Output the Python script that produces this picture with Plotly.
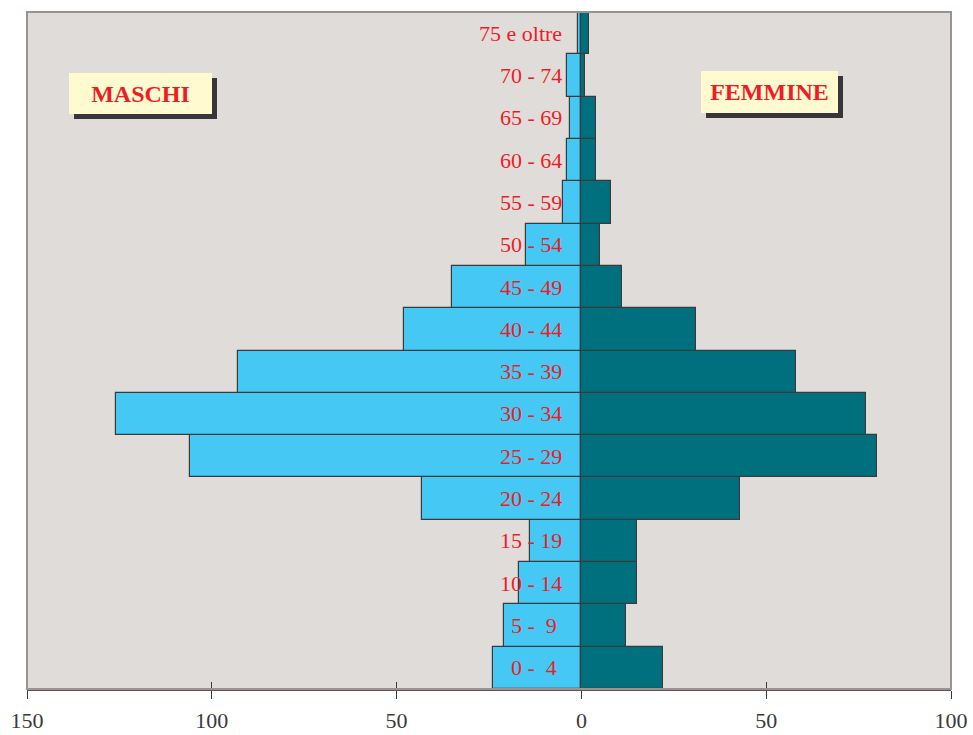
import plotly.graph_objects as go

age_groups = ["0 -  4 ", "5 -  9 ", "10 - 14", "15 - 19", "20 - 24", "25 - 29", "30 - 34",
              "35 - 39", "40 - 44", "45 - 49", "50 - 54", "55 - 59", "60 - 64", "65 - 69",
              "70 - 74", "75 e oltre"]
maschi = [24, 21, 17, 14, 43, 106, 126, 93, 48, 35, 15, 5, 4, 3, 4, 1]
femmine = [22, 12, 15, 15, 43, 80, 77, 58, 31, 11, 5, 8, 4, 4, 1, 2]
tick_vals = [-150, -100, -50, 0, 50, 100]
tick_text = ["150", "100", "50", "0", "50", "100"]

SERIF = "Liberation Serif, DejaVu Serif, serif"
RED = "#EE1C25"
pos = list(range(len(age_groups)))

fig = go.Figure()
fig.add_trace(go.Bar(
    y=pos, x=[-v for v in maschi], orientation="h", name="MASCHI",
    marker=dict(color="#45C8F3", line=dict(color="#3a3a3a", width=1.2)),
    hoverinfo="skip", showlegend=False,
))
fig.add_trace(go.Bar(
    y=pos, x=femmine, orientation="h", name="FEMMINE",
    marker=dict(color="#00707E", line=dict(color="#3a3a3a", width=1.2)),
    hoverinfo="skip", showlegend=False,
))

annotations = []
for p, lab in zip(pos, age_groups):
    annotations.append(dict(
        x=0, y=p, xref="x", yref="y", text=lab.replace(" ", "\u00a0"),
        xanchor="right", yanchor="middle", xshift=-17, showarrow=False,
        font=dict(family=SERIF, size=22, color=RED),
    ))

def boxed(label, xp, yp, w, h):
    shadow = dict(x=xp, y=yp, xref="paper", yref="paper", text="\u00a0",
                  showarrow=False, xanchor="center", yanchor="middle",
                  width=w, height=h, bgcolor="#38363a", borderpad=0, borderwidth=0,
                  xshift=5, yshift=-5, font=dict(size=10))
    box = dict(x=xp, y=yp, xref="paper", yref="paper", text="<b>%s</b>" % label,
               showarrow=False, xanchor="center", yanchor="middle",
               width=w, height=h, bgcolor="#FFFACF", borderpad=0, borderwidth=0,
               font=dict(family=SERIF, size=24, color=RED))
    return [shadow, box]

annotations += boxed("MASCHI", 0.1223, 0.8798, 143, 41)
annotations += boxed("FEMMINE", 0.8034, 0.8823, 137, 42)

fig.update_layout(
    width=973, height=735,
    margin=dict(l=27, r=22, t=12, b=46, autoexpand=False),
    paper_bgcolor="white", plot_bgcolor="#E0DCDA",
    barmode="overlay", bargap=0,
    annotations=annotations,
    shapes=[dict(type="rect", xref="paper", yref="paper", x0=0, y0=0, x1=1, y1=1,
                 line=dict(color="#9b918f", width=2), layer="above")],
    xaxis=dict(range=[-150, 100], tickvals=tick_vals, ticktext=tick_text,
               ticks="outside", ticklen=8, tickcolor="#3a3a3a", tickwidth=1,
               showgrid=False, zeroline=False, showline=True, linecolor="#5c5557",
               linewidth=2, tickfont=dict(family=SERIF, size=22, color="#3a3a3a"),
               ticklabelstandoff=3, fixedrange=True, automargin=False),
    xaxis2=dict(range=[-150, 100], tickvals=tick_vals, overlaying="x",
                ticks="inside", ticklen=7, tickcolor="#3a3a3a", tickwidth=1,
                showticklabels=False, showgrid=False, zeroline=False, showline=False,
                layer="below traces", side="bottom", anchor="y", automargin=False),
    yaxis=dict(range=[-0.5, len(age_groups) - 0.5], showticklabels=False,
               showgrid=False, zeroline=False, ticks="", fixedrange=True,
               automargin=False),
)
# dummy invisible trace to activate xaxis2
fig.add_trace(go.Scatter(x=[None], y=[None], xaxis="x2", yaxis="y",
                         showlegend=False, hoverinfo="skip"))

fig.write_html(
    "out.html",
    config={"displayModeBar": False},
    post_script="document.body.style.margin='0';document.body.style.overflow='hidden';",
)
